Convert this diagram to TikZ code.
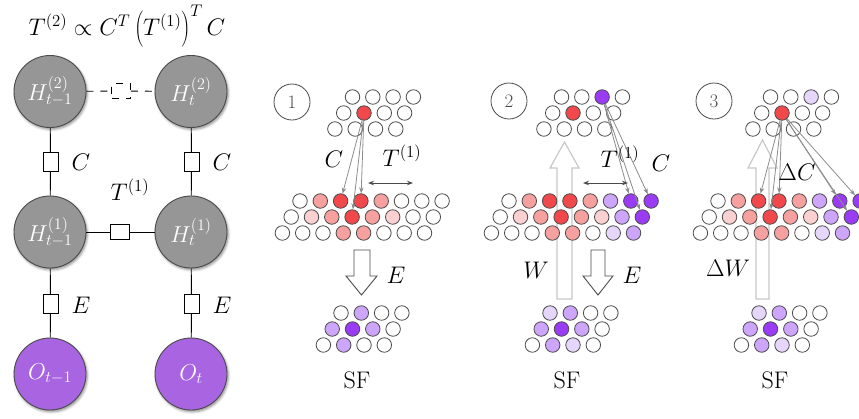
\RequirePackage{fix-cm}
\documentclass[tikz,border=0pt]{standalone}
\usetikzlibrary{arrows.meta,shadows.blur}
\definecolor{cW}{RGB}{255,255,255}
\definecolor{cR}{RGB}{240,72,75}
\definecolor{cLR}{RGB}{246,160,160}
\definecolor{cVLR}{RGB}{251,208,208}
\definecolor{cDP}{RGB}{155,60,245}
\definecolor{cLP}{RGB}{205,165,250}
\definecolor{cVLP}{RGB}{230,214,252}
\definecolor{nodegray}{RGB}{150,150,150}
\definecolor{opurple}{RGB}{168,100,225}
\definecolor{edgegray}{RGB}{75,75,75}
\definecolor{arrgray}{RGB}{140,140,140}
\definecolor{wgray}{RGB}{200,200,200}
\newcommand\gridrow[4]{%
  \foreach \cc [count=\ii from 0] in {#4} {%
    \node[dot, fill=c\cc] (#1\ii) at ({#2+20.3*\ii},#3) {};}}
\begin{document}
\begin{tikzpicture}[x=1pt,y=-1pt,
  big/.style={circle, minimum size=72pt, inner sep=0pt, draw=edgegray, line width=0.9pt,
    text=white, font=\fontsize{23}{27}\selectfont,
    blur shadow={shadow xshift=1.2pt, shadow yshift=-1.8pt, shadow blur radius=2.5pt, shadow opacity=45}},
  hnode/.style={big, fill=nodegray},
  onode/.style={big, fill=opurple},
  vfac/.style={draw=black, fill=white, line width=0.9pt, minimum width=15pt, minimum height=19pt, inner sep=0pt},
  hfac/.style={draw=black, fill=white, line width=0.9pt, minimum width=19pt, minimum height=15pt, inner sep=0pt},
  edge/.style={draw=black, line width=0.9pt},
  dashedge/.style={draw=black, line width=0.9pt, dash pattern=on 7pt off 7pt},
  lab/.style={font=\fontsize{24}{28}\selectfont, inner sep=0pt},
  dot/.style={circle, draw=edgegray, line width=0.8pt, minimum size=14.5pt, inner sep=0pt},
  conn/.style={draw=arrgray, line width=0.8pt, -{Stealth[length=6pt,width=4.5pt]}},
  dbl/.style={draw=edgegray, line width=0.9pt, {Stealth[length=6pt,width=4.5pt]}-{Stealth[length=6pt,width=4.5pt]}},
  numc/.style={circle, draw=edgegray, line width=0.8pt, minimum size=36pt, inner sep=0pt, text=edgegray, font=\fontsize{19}{22}\selectfont},
  blockE/.style={draw=edgegray, fill=white, line width=0.9pt, line join=miter},
  blockW/.style={draw=wgray, line width=1.2pt, line join=miter}
]
\useasboundingbox (0,0) rectangle (859,418);

% ---------- left graphical model ----------
\node[lab] (formula) at (127,26) {$T^{(2)} \propto C^T\left(T^{(1)}\vphantom{T^{(1)}_{1}}\right)^{T} C$};
\node[hnode] (H2a) at (50,91.5) {$H^{(2)}_{t-1}$};
\node[hnode] (H2b) at (191,91.5) {$H^{(2)}_{t}$};
\node[hnode] (H1a) at (50,232) {$H^{(1)}_{t-1}$};
\node[hnode] (H1b) at (191,232) {$H^{(1)}_{t}$};
\node[onode] (Oa) at (50,374) {$O_{t-1}$};
\node[onode] (Ob) at (191,374) {$O_{t}$};

\node[vfac] (fCa) at (50.5,162) {};
\node[vfac] (fCb) at (191.5,162) {};
\node[vfac] (fEa) at (50.5,304) {};
\node[vfac] (fEb) at (191.5,304) {};
\node[hfac] (fT) at (120,232) {};
\node[hfac, dash pattern=on 7pt off 7pt] (fD) at (121,91) {};

\draw[edge] (H2a) -- (fCa); \draw[edge] (fCa) -- (H1a);
\draw[edge] (H2b) -- (fCb); \draw[edge] (fCb) -- (H1b);
\draw[edge] (H1a) -- (fEa); \draw[edge] (fEa) -- (Oa);
\draw[edge] (H1b) -- (fEb); \draw[edge] (fEb) -- (Ob);
\draw[edge] (H1a) -- (fT); \draw[edge] (fT) -- (H1b);
\draw[dashedge] (H2a) -- (fD); \draw[dashedge] (fD) -- (H2b);

\node[lab] (lCa) at (81,162) {$C$};
\node[lab] (lCb) at (222,162) {$C$};
\node[lab] (lEa) at (81,305) {$E$};
\node[lab] (lEb) at (222,305) {$E$};
\node[lab] (lT) at (130,190) {$T^{(1)}$};

% ---------- block arrows (behind) ----------
\draw[blockW] (557,299) -- (557,168) -- (550,168) -- (564.5,142) -- (579,168) -- (572,168) -- (572,299) -- cycle;
\draw[blockW] (756,299) -- (756,168) -- (748,168) -- (762.5,140) -- (777,168) -- (769,168) -- (769,299) -- cycle;
\draw[blockE] (354,250) -- (370,250) -- (370,276) -- (377,276) -- (361.5,295) -- (346,276) -- (354,276) -- cycle;
\draw[blockE] (591,250) -- (605,250) -- (605,276) -- (613,276) -- (598,295) -- (583,276) -- (591,276) -- cycle;

% ---------- panel 1 ----------
\node[numc] (n1) at (292,102) {1};
\gridrow{a1t0-}{352.5}{97}{W,W,W,W}
\gridrow{a1t1-}{343.7}{113}{W,R,W,W}
\gridrow{a1t2-}{334.9}{129}{W,W,W,W}
\gridrow{a1m0-}{300}{201}{W,LR,R,R,LR,W,W,W}
\gridrow{a1m1-}{291.2}{217}{W,VLR,LR,R,LR,VLR,W,W}
\gridrow{a1m2-}{282.4}{233}{W,W,W,LR,LR,W,W,W}
\gridrow{a1b0-}{341}{313}{W,LP,W,W}
\gridrow{a1b1-}{332.2}{329}{LP,DP,LP,W}
\gridrow{a1b2-}{323.4}{345}{W,LP,W,W}
\draw[conn] (a1t1-1) -- (a1m0-2);
\draw[conn] (a1t1-1) -- (a1m0-3);
\draw[conn] (a1t1-1) -- (a1m1-3);
\coordinate (d1a) at (368,183);
\coordinate (d1b) at (413,183);
\draw[dbl] (d1a) -- (d1b);
\node[lab] (l1C) at (334,159) {$C$};
\node[lab] (l1T) at (402,156) {$T^{(1)}$};
\node[lab] (l1E) at (396,275) {$E$};
\node[lab] (sf1) at (357,380) {SF};

% ---------- panel 2 ----------
\node[numc] (n2) at (509,101) {2};
\gridrow{a2t0-}{561.5}{97}{W,W,DP,W}
\gridrow{a2t1-}{552.7}{113}{W,R,W,W}
\gridrow{a2t2-}{543.9}{129}{W,W,W,W}
\gridrow{a2m0-}{509}{201}{W,LR,R,R,LR,LP,DP,DP}
\gridrow{a2m1-}{500.2}{217}{W,VLR,LR,R,LR,VLR,LP,DP}
\gridrow{a2m2-}{491.4}{233}{W,W,W,LR,LR,W,VLP,LP}
\gridrow{a2b0-}{550}{313}{VLP,LP,W,W}
\gridrow{a2b1-}{541.2}{329}{LP,DP,LP,W}
\gridrow{a2b2-}{532.4}{345}{W,LP,VLP,W}
\draw[conn] (a2t0-2) -- (a2m0-6);
\draw[conn] (a2t0-2) -- (a2m0-7);
\draw[conn] (a2t0-2) -- (a2m1-7);
\coordinate (d2a) at (583,183);
\coordinate (d2b) at (628,183);
\draw[dbl] (d2a) -- (d2b);
\node[lab] (l2T) at (620,157) {$T^{(1)}$};
\node[lab] (l2C) at (661,163) {$C$};
\node[lab] (l2W) at (536,270) {$W$};
\node[lab] (l2E) at (632,275) {$E$};
\node[lab] (sf2) at (567,380) {SF};

% ---------- panel 3 ----------
\node[numc] (n3) at (714,101) {3};
\gridrow{a3t0-}{770.5}{97}{W,W,VLP,W}
\gridrow{a3t1-}{761.7}{113}{W,R,W,W}
\gridrow{a3t2-}{752.9}{129}{W,W,W,W}
\gridrow{a3m0-}{718}{201}{W,LR,R,R,LR,LP,DP,DP}
\gridrow{a3m1-}{709.2}{217}{W,VLR,LR,R,LR,VLR,LP,DP}
\gridrow{a3m2-}{700.4}{233}{W,W,W,LR,LR,W,VLP,LP}
\gridrow{a3b0-}{759}{313}{VLP,LP,W,W}
\gridrow{a3b1-}{750.2}{329}{LP,DP,LP,W}
\gridrow{a3b2-}{741.4}{345}{W,LP,VLP,W}
\draw[conn] (a3t1-1) -- (a3m0-2);
\draw[conn] (a3t1-1) -- (a3m0-3);
\draw[conn] (a3t1-1) -- (a3m1-3);
\draw[conn] (a3t1-1) -- (a3m0-6);
\draw[conn] (a3t1-1) -- (a3m0-7);
\draw[conn] (a3t1-1) -- (a3m1-7);
\node[lab] (l3C) at (797,172) {$\Delta C$};
\node[lab] (l3W) at (728,268) {$\Delta W$};
\node[lab] (sf3) at (775,380) {SF};
\end{tikzpicture}
\end{document}
